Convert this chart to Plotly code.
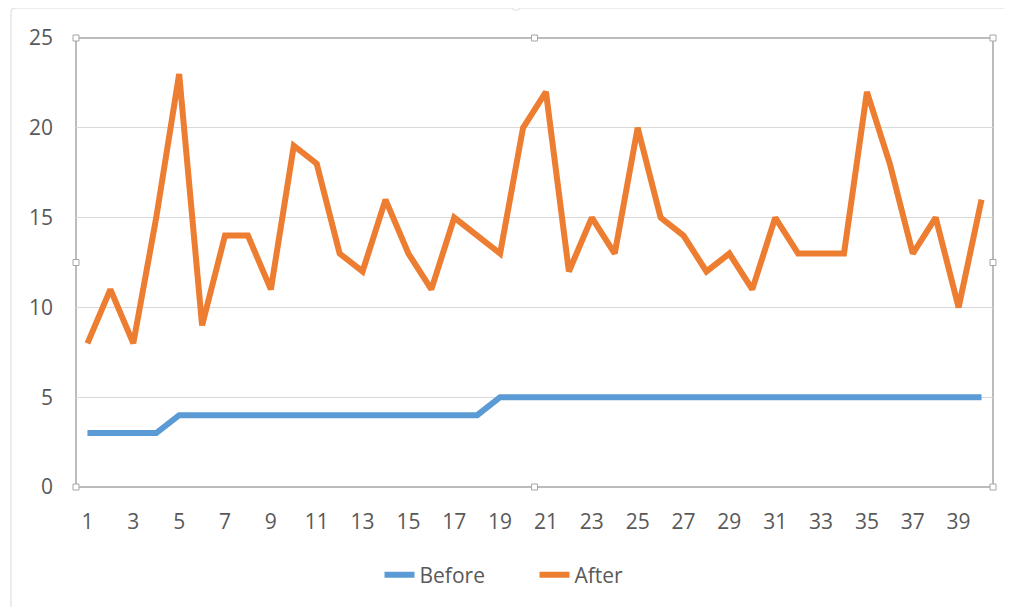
import plotly.graph_objects as go

categories = list(range(1, 41))
before = [3, 3, 3, 3] + [4] * 14 + [5] * 22
after = [8, 11, 8, 15, 23, 9, 14, 14, 11, 19,
         18, 13, 12, 16, 13, 11, 15, 14, 13, 20,
         22, 12, 15, 13, 20, 15, 14, 12, 13, 11,
         15, 13, 13, 13, 22, 18, 13, 15, 10, 16]
x_tick_vals = list(range(1, 41, 2))
y_tick_vals = [0, 5, 10, 15, 20, 25]

OFF = 8  # page body margin
W, H = 1004, 599
L, R, T, B = 76 - OFF, 19, 38 - OFF, 120
pw, ph = W - L - R, H - T - B

def px_x(p):
    return (p - OFF - L) / pw

def px_y(p):
    return (H - B - (p - OFF)) / ph

fig = go.Figure()
fig.add_trace(go.Scatter(x=categories, y=before, name="Before", mode="lines",
                         line=dict(color="#5B9BD5", width=6)))
fig.add_trace(go.Scatter(x=categories, y=after, name="After", mode="lines",
                         line=dict(color="#ED7D31", width=6)))

shapes = []
shapes.append(dict(type="rect", xref="paper", yref="paper", x0=0, x1=1, y0=0, y1=1,
                   line=dict(color="#A6A6A6", width=1.5), layer="below"))
x0o, y0o = px_x(11), px_y(8)
shapes.append(dict(type="line", xref="paper", yref="paper", x0=px_x(15), x1=px_x(1012), y0=y0o, y1=y0o,
                   line=dict(color="#D9D9D9", width=1)))
shapes.append(dict(type="line", xref="paper", yref="paper", x0=x0o, x1=x0o, y0=px_y(12), y1=px_y(607),
                   line=dict(color="#D9D9D9", width=1)))
shapes.append(dict(type="path", xref="paper", yref="paper",
                   path=f"M {x0o},{px_y(12)} Q {x0o},{y0o} {px_x(15)},{y0o}",
                   line=dict(color="#D9D9D9", width=1)))
handles = [(0, 0), (0.5, 0), (1, 0), (0, 0.5), (1, 0.5), (0, 1), (0.5, 1), (1, 1)]
for hx, hy in handles:
    shapes.append(dict(type="rect", xref="paper", yref="paper", xsizemode="pixel", ysizemode="pixel",
                       xanchor=hx, yanchor=hy, x0=-3, x1=3, y0=-3, y1=3,
                       fillcolor="white", line=dict(color="#A6A6A6", width=1)))
shapes.append(dict(type="rect", xref="paper", yref="paper", xsizemode="pixel", ysizemode="pixel",
                   xanchor=px_x(516), yanchor=y0o, x0=-3, x1=3, y0=-2, y1=2,
                   fillcolor="white", line=dict(color="#E0E0E0", width=1)))

fig.update_layout(
    width=W, height=H,
    margin=dict(l=L, r=R, t=T, b=B),
    paper_bgcolor="white", plot_bgcolor="white",
    font=dict(family="Open Sans, Noto Sans, sans-serif", size=21, color="#595959"),
    xaxis=dict(range=[0.5, 40.5], tickvals=x_tick_vals, ticktext=[str(v) for v in x_tick_vals],
               showgrid=False, zeroline=False, showline=False, ticks="",
               ticklabelstandoff=20, fixedrange=True),
    yaxis=dict(range=[0, 25], tickvals=y_tick_vals, showgrid=True, gridcolor="#D9D9D9", gridwidth=1,
               zeroline=False, showline=False, ticks="", ticklabelstandoff=22, fixedrange=True),
    legend=dict(orientation="h", x=0.5, xanchor="center", y=-0.196, yanchor="middle",
                font=dict(size=21, color="#595959"), entrywidth=110, entrywidthmode="pixels",
                tracegroupgap=0),
    shapes=shapes,
)

fig.write_html("out.html")
